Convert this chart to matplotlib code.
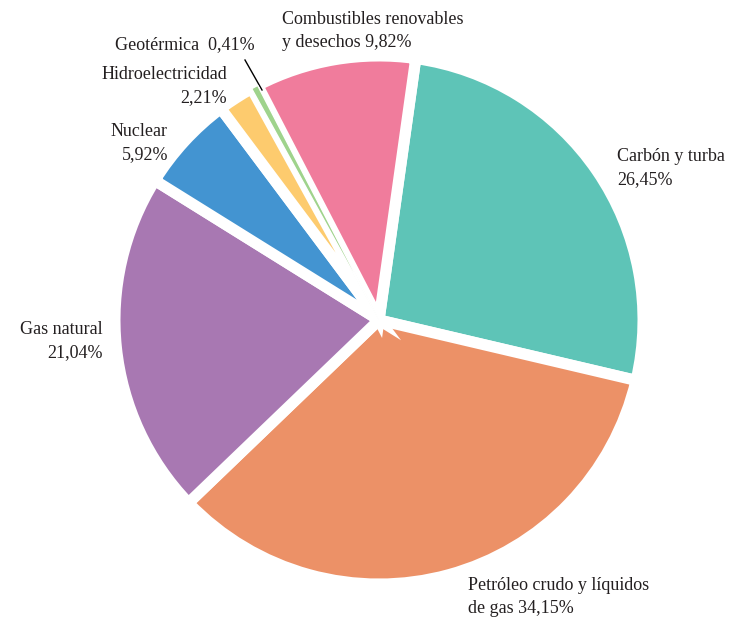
import matplotlib.pyplot as plt

# energy sources, clockwise from the top
sources = ["Carbón y turba", "Petróleo crudo y líquidos\nde gas", "Gas natural",
           "Nuclear", "Hidroelectricidad", "Geotérmica", "Combustibles renovables\ny desechos"]
shares = [26.45, 34.15, 21.04, 5.92, 2.21, 0.41, 9.82]
colors = ["#5ec4b7", "#ec9167", "#a878b2", "#4394d1", "#fdcb6e", "#9fd38c", "#f07c9c"]

label_texts = ["Carbón y turba\n26,45%", "Petróleo crudo y líquidos\nde gas 34,15%",
               "Gas natural\n21,04%", "Nuclear\n5,92%", "Hidroelectricidad\n2,21%",
               "Geotérmica  0,41%", "Combustibles renovables\ny desechos 9,82%"]
# label placement in pixel coords (x, y from top) and alignment
label_pos = [(617, 168, "left"), (468, 597, "left"), (103, 341, "right"),
             (168, 143, "right"), (227, 86, "right"), (255, 45, "right"),
             (282, 31, "left")]

W, H = 744, 618
fig = plt.figure(figsize=(W / 100, H / 100), dpi=100)
ax = fig.add_axes([0, 0, 1, 1])

wedges, _ = ax.pie(shares, colors=colors, startangle=82, counterclock=False,
                   center=(379, H - 320), radius=264, explode=[0.06] * len(shares),
                   wedgeprops=dict(edgecolor="white", linewidth=8), frame=True)
# the thin geothermal slice would vanish under the white edges, keep it on top
geo = wedges[sources.index("Geotérmica")]
geo.set_linewidth(1)
geo.set_zorder(5)

ax.set_xlim(0, W)
ax.set_ylim(0, H)
ax.axis("off")

for txt, (x, y, ha) in zip(label_texts, label_pos):
    ax.text(x, H - y, txt, ha=ha, va="center", fontsize=13,
            family="Liberation Serif", color="#231f20", linespacing=1.4)

# leader line for the geothermal slice
ax.plot([245, 262], [H - 60, H - 90], color="black", lw=1)

fig.savefig("out.png", dpi=100, facecolor="white")
